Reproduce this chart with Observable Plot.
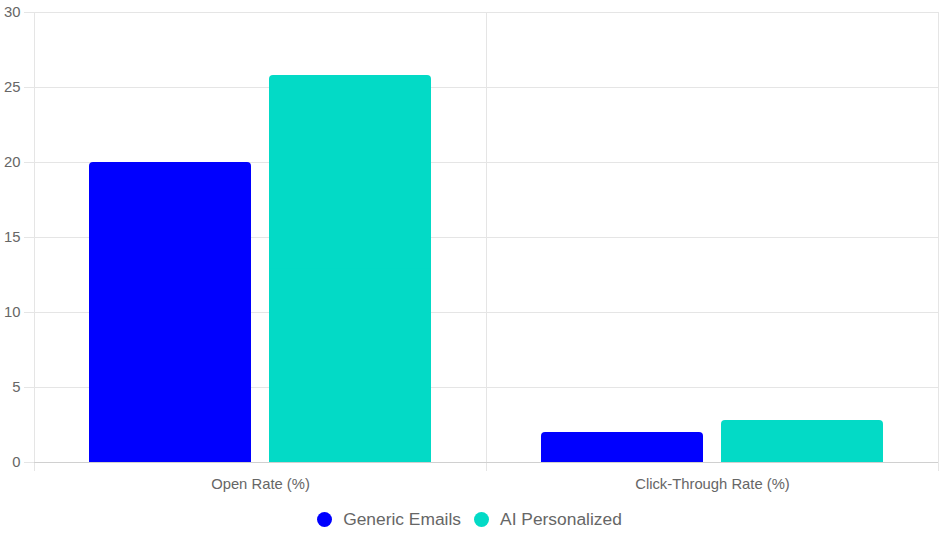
<!DOCTYPE html>
<html>
<head>
<meta charset="utf-8">
<script src="https://cdn.jsdelivr.net/npm/d3@7"></script>
<script src="https://cdn.jsdelivr.net/npm/@observablehq/plot@0.6"></script>
<style>
  html, body { margin: 0; padding: 0; background: #fff; }
  #legend { display: flex; justify-content: center; align-items: center; gap: 13px; margin-top: 9px; font-family: "Liberation Sans", Arial, sans-serif; font-size: 17.4px; color: #666; height: 20px; }
  .item { display: flex; align-items: center; gap: 11px; }
  .dot { width: 15px; height: 15px; border-radius: 50%; display: inline-block; }
</style>
</head>
<body>
<div id="chart"></div>
<div id="legend"></div>
<script>
const categories = ["Open Rate (%)", "Click-Through Rate (%)"];
const series = ["Generic Emails", "AI Personalized"];
const genericValues = [20, 2];
const aiValues = [25.8, 2.8];
const colors = ["#0000ff", "#03dac6"];
const yTicks = [0, 5, 10, 15, 20, 25, 30];

const rows = categories.flatMap((c, i) => [
  {category: c, series: series[0], value: genericValues[i]},
  {category: c, series: series[1], value: aiValues[i]}
]);

const chart = Plot.plot({
  width: 939,
  height: 500,
  marginLeft: 34,
  marginRight: 1,
  marginTop: 12,
  marginBottom: 38,
  fx: {domain: categories, padding: 0, label: null},
  x: {domain: series, paddingInner: 0.1, paddingOuter: 0.3, axis: null},
  y: {domain: [0, 30], ticks: yTicks, axis: null},
  color: {domain: series, range: colors},
  style: {fontFamily: "'Liberation Sans', Arial, sans-serif", fontSize: "14.8px", color: "#666", background: "#fff"},
  marks: [
    Plot.gridY(yTicks, {stroke: "#e5e5e5", strokeOpacity: 1}),
    Plot.frame({anchor: "left", stroke: "#e5e5e5", strokeOpacity: 1, insetBottom: -8}),
    Plot.frame({anchor: "right", stroke: "#e5e5e5", strokeOpacity: 1, insetBottom: -8}),
    Plot.axisY(yTicks, {tickSize: 10, tickPadding: 4, stroke: "#e5e5e5", strokeOpacity: 1, fill: "#666", label: null}),
    Plot.axisFx({anchor: "bottom", tickSize: 0, tickPadding: 16, label: null, fill: "#666"}),
    Plot.barY(rows, {fx: "category", x: "series", y: "value", fill: "series", rx: 4}),
    Plot.barY(rows, {fx: "category", x: "series", y1: 0, y2: d => d.value / 2, fill: "series"}),
    Plot.ruleY([0], {stroke: "#d0d0d0"})
  ]
});
document.getElementById("chart").appendChild(chart);

const legend = document.getElementById("legend");
series.forEach((s, i) => {
  const item = document.createElement("div");
  item.className = "item";
  const dot = document.createElement("span");
  dot.className = "dot";
  dot.style.background = colors[i];
  const label = document.createElement("span");
  label.textContent = s;
  item.appendChild(dot);
  item.appendChild(label);
  legend.appendChild(item);
});
</script>
</body>
</html>
